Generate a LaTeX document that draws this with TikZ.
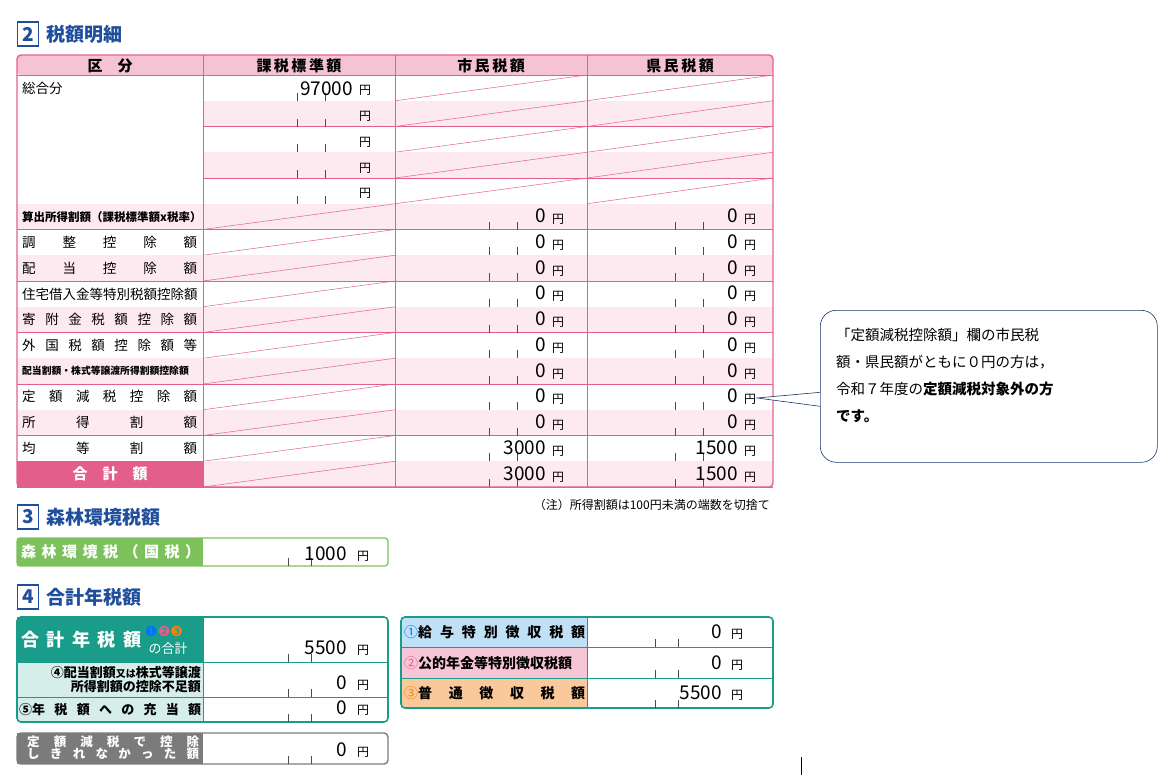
\documentclass[tikz,border=0pt]{standalone}
\usepackage{fontspec}
\setmainfont{Noto Sans CJK JP}
\newfontfamily\symfont{DejaVu Sans}
\usetikzlibrary{positioning}
\definecolor{pinkline}{HTML}{E0628C}
\definecolor{pinkhead}{HTML}{F6C3D3}
\definecolor{pinkrow}{HTML}{FDE9F0}
\definecolor{pinkdark}{HTML}{E45E8C}
\definecolor{secblue}{HTML}{1F4E9C}
\definecolor{tealdark}{HTML}{1A9C8B}
\definecolor{teallight}{HTML}{D6EEEA}
\definecolor{greenlab}{HTML}{7CC15B}
\definecolor{greylab}{HTML}{7B7B7B}
\definecolor{bluelab}{HTML}{C0E0F5}
\definecolor{pinklab}{HTML}{F7C6D6}
\definecolor{orangelab}{HTML}{F9C99B}
\tikzset{
  sechead/.style={font=\bfseries\fontsize{19}{19}\selectfont, text=secblue, anchor=west, inner sep=0pt},
  secnum/.style={draw=secblue, line width=1.8pt, text=secblue, font=\bfseries\fontsize{19}{19}\selectfont,
    minimum width=21pt, minimum height=24pt, inner sep=0pt},
  colhead/.style={font=\bfseries\fontsize{15}{15}\selectfont},
  rowlbl/.style={font=\fontsize{13.5}{13.5}\selectfont, anchor=west, inner sep=0pt},
  num/.style={font=\fontsize{19}{19}\selectfont, anchor=base east, inner sep=0pt},
  yen/.style={font=\fontsize{12}{12}\selectfont, anchor=base west, inner sep=0pt},
  tick/.style={line width=0.4pt, black!70},
  diag/.style={pinkline, line width=0.5pt},
}
\newcommand{\spreadtext}[2]{\hbox to #1{#2}}
\begin{document}
\begin{tikzpicture}[x=1pt,y=-1pt]
\useasboundingbox (0,0) rectangle (1172,779);

% section 2
\node[secnum] (n2) at (28,34) {2};
\node[sechead, right=7pt of n2] (h2) {税額明細};

% rows of the main table
\foreach \i in {0,...,15}{
  \pgfmathsetmacro\yt{75+\i*25.75}
  \pgfmathsetmacro\yb{75+(\i+1)*25.75}
  \ifodd\i
    \fill[pinkrow] (17,\yt) rectangle (773,\yb);
  \fi
  \ifnum\i<5
    \fill[white] (17,\yt) rectangle (203,\yb);
    \draw[pinkline] (203,\yb) -- (773,\yb);
    \draw[diag] (395,\yb) -- (587,\yt);
    \draw[diag] (587,\yb) -- (773,\yt);
    \draw[tick] (297,\yb) -- ++(0,-8);
    \draw[tick] (325,\yb) -- ++(0,-8);
    \node[yen] (yk\i) at (359,\yb-6) {円};
  \else
    \draw[pinkline] (17,\yb) -- (773,\yb);
    \draw[diag] (203,\yb) -- (395,\yt);
    \foreach \c in {587,773}{
      \draw[tick] (\c-98,\yb) -- ++(0,-8);
      \draw[tick] (\c-70,\yb) -- ++(0,-8);
    }
    \node[yen] (ys\i) at (552,\yb-6) {円};
    \node[yen] (yp\i) at (744,\yb-6) {円};
  \fi
}
\fill[pinkdark] (17,461.25) rectangle (203,487);
\fill[pinkhead, rounded corners=4pt] (17,55) rectangle (773,75);
\draw[pinkline] (17,75) -- (773,75);
\foreach \c in {203,395,587}
  \draw[pinkline] (\c,55) -- (\c,487);
\draw[pinkline, line width=1.4pt, rounded corners=4pt] (17,55) rectangle (773,487);

% header texts
\node[colhead] (hk) at (110,66) {区　分};
\node[colhead] (hb) at (299,66) {課\,税\,標\,準\,額};
\node[colhead] (hs) at (491,66) {市\,民\,税\,額};
\node[colhead] (hp) at (680,66) {県\,民\,税\,額};

\node[rowlbl] (sogo) at (22,88) {総合分};
\node[num] (v97) at (353,95) {97000};

% row labels and amounts
\foreach \i/\lbl/\sv/\pv in {
  5/{\fontsize{11.5}{11.5}\selectfont\bfseries 算出所得割額（課税標準額x税率）}/0/0,
  6/{\spreadtext{175pt}{調\hfill 整\hfill 控\hfill 除\hfill 額}}/0/0,
  7/{\spreadtext{175pt}{配\hfill 当\hfill 控\hfill 除\hfill 額}}/0/0,
  8/{\spreadtext{175pt}{住宅借入金等特別税額控除額}}/0/0,
  9/{\spreadtext{175pt}{寄\hfill 附\hfill 金\hfill 税\hfill 額\hfill 控\hfill 除\hfill 額}}/0/0,
  10/{\spreadtext{175pt}{外\hfill 国\hfill 税\hfill 額\hfill 控\hfill 除\hfill 額\hfill 等}}/0/0,
  11/{\fontsize{9.8}{9.8}\selectfont\bfseries 配当割額・株式等譲渡所得割額控除額}/0/0,
  12/{\spreadtext{175pt}{定\hfill 額\hfill 減\hfill 税\hfill 控\hfill 除\hfill 額}}/0/0,
  13/{\spreadtext{175pt}{所\hfill 得\hfill 割\hfill 額}}/0/0,
  14/{\spreadtext{175pt}{均\hfill 等\hfill 割\hfill 額}}/3000/1500}{
  \pgfmathsetmacro\ym{75+(\i+0.5)*25.75}
  \node[rowlbl] (l\i) at (22,\ym) {\lbl};
  \node[num] (s\i) at (546,\ym+6) {\sv};
  \node[num] (p\i) at (738,\ym+6) {\pv};
}
\node[font=\bfseries\fontsize{15}{15}\selectfont, text=white] (gokei) at (110,474) {合　計　額};
\node[num] (s15) at (546,480) {3000};
\node[num] (p15) at (738,480) {1500};

% note
\node[font=\fontsize{12}{12}\selectfont, anchor=east, inner sep=0pt] (note) at (770,505)
  {（注）所得割額は100円未満の端数を切捨て};

% callout
\node[draw=secblue!70!black, line width=0.6pt, fill=white, rounded corners=16pt, minimum width=337pt,
  minimum height=152pt, anchor=north west, inner sep=0pt] (callout) at (820,310) {};
\node[font=\fontsize{14.5}{27}\selectfont, align=left, anchor=north west, inner sep=0pt] (calltext) at (836,328)
  {「定額減税控除額」欄の市民税\\額・県民額がともに０円の方は，\\令和７年度の\textbf{定額減税対象外の方}\\\textbf{です。}};
\coordinate (tip) at (757,398);
\coordinate (cw1) at ([yshift=-6pt]callout.west);
\coordinate (cw2) at ([yshift=-20pt]callout.west);
\fill[white] (cw1) -- (tip) -- (cw2) -- cycle;
\draw[secblue!70!black, line width=0.6pt] (cw1) -- (tip) -- (cw2);

% section 3
\node[secnum] (n3) at (28,517) {3};
\node[sechead, right=7pt of n3] (h3) {森林環境税額};
\fill[greenlab] (17,538) rectangle (203,566);
\draw[greenlab, line width=1.2pt, rounded corners=3pt] (17,538) rectangle (388,566);
\draw[tick] (288,566) -- ++(0,-8);
\draw[tick] (311,566) -- ++(0,-8);
\node[font=\bfseries\fontsize{15}{15}\selectfont, text=white, anchor=west, inner sep=0pt] (shinrin) at (21,552)
  {\spreadtext{179pt}{森\hfill 林\hfill 環\hfill 境\hfill 税\hfill （\hfill 国\hfill 税\hfill ）}};
\node[num] (v1000) at (347,560) {1000};
\node[yen] (y1000) at (357,560) {円};

% section 4
\node[secnum] (n4) at (28,597) {4};
\node[sechead, right=7pt of n4] (h4) {合計年税額};

% left box
\fill[tealdark] (17,617) rectangle (203,662);
\fill[teallight] (17,662) rectangle (203,722);
\draw[tealdark, line width=1pt] (17,662) -- (388,662) (17,697) -- (388,697) (203,617) -- (203,722);
\draw[tealdark, line width=1.6pt, rounded corners=4pt] (17,617) rectangle (388,722);
\node[font=\bfseries\fontsize{18}{18}\selectfont, text=white, anchor=west, inner sep=0pt] (gnz) at (21,640)
  {\spreadtext{120pt}{合\hfill 計\hfill 年\hfill 税\hfill 額}};
\node[font=\symfont\fontsize{14}{14}\selectfont, anchor=west, inner sep=0pt] (circ) at (145,631)
  {\textcolor{blue!55!cyan}{❶}\textcolor{pinkdark}{❷}\textcolor{orange}{❸}};
\node[font=\fontsize{13}{13}\selectfont, text=white, inner sep=0pt] (nogokei) at (168,649) {の合計};
\node[font=\bfseries\fontsize{13}{14}\selectfont, align=right, anchor=east, inner sep=0pt] (hai) at (201,679)
  {④配当割額{\fontsize{10}{10}\selectfont 又は}株式等譲渡\\所得割額の控除不足額};
\node[font=\bfseries\fontsize{13}{13}\selectfont, anchor=west, inner sep=0pt] (juto) at (19,710)
  {\spreadtext{182pt}{⑤年\hfill 税\hfill 額\hfill へ\hfill の\hfill 充\hfill 当\hfill 額}};
\foreach \yb/\v/\nm in {662/5500/a,697/0/b,722/0/c}{
  \draw[tick] (288,\yb) -- ++(0,-8);
  \draw[tick] (311,\yb) -- ++(0,-8);
  \node[num] (lv\nm) at (347,\yb-8) {\v};
  \node[yen] (ly\nm) at (357,\yb-8) {円};
}

% grey box
\fill[greylab] (17,733) rectangle (203,764);
\draw[greylab, line width=1.4pt, rounded corners=4pt] (17,733) rectangle (388,764);
\node[font=\bfseries\fontsize{12.5}{14}\selectfont, text=white, anchor=west, inner sep=0pt, align=left] (gen) at (27,748)
  {\spreadtext{172pt}{定\hfill 額\hfill 減\hfill 税\hfill で\hfill 控\hfill 除}\\[-2pt]\spreadtext{172pt}{し\hfill き\hfill れ\hfill な\hfill か\hfill っ\hfill た\hfill 額}};
\draw[tick] (288,764) -- ++(0,-8);
\draw[tick] (311,764) -- ++(0,-8);
\node[num] (gv) at (347,756) {0};
\node[yen] (gy) at (357,756) {円};

% right box
\fill[bluelab] (401,617) rectangle (587,647);
\fill[pinklab] (401,647) rectangle (587,678);
\fill[orangelab] (401,678) rectangle (587,708);
\draw[tealdark, line width=1pt] (401,647) -- (773,647) (401,678) -- (773,678) (587,617) -- (587,708);
\draw[tealdark, line width=1.6pt, rounded corners=4pt] (401,617) rectangle (773,708);
\node[font=\bfseries\fontsize{14}{14}\selectfont, anchor=west, inner sep=0pt] (kyuyo) at (404,632)
  {\spreadtext{181pt}{\textcolor{blue!55!cyan}{\mdseries ①}給\hfill 与\hfill 特\hfill 別\hfill 徴\hfill 収\hfill 税\hfill 額}};
\node[font=\bfseries\fontsize{14}{14}\selectfont, anchor=west, inner sep=0pt] (nenkin) at (404,663)
  {\spreadtext{181pt}{\textcolor{pinkdark}{\mdseries ②}公的年金等特別徴収税額}};
\node[font=\bfseries\fontsize{14}{14}\selectfont, anchor=west, inner sep=0pt] (futsu) at (404,693)
  {\spreadtext{181pt}{\textcolor{orange}{\mdseries ③}普\hfill 通\hfill 徴\hfill 収\hfill 税\hfill 額}};
\foreach \yb/\v/\nm in {647/0/a,678/0/b,708/5500/c}{
  \draw[tick] (655,\yb) -- ++(0,-8);
  \draw[tick] (678,\yb) -- ++(0,-8);
  \node[num] (rv\nm) at (722,\yb-9) {\v};
  \node[yen] (ry\nm) at (731,\yb-9) {円};
}

% stray mark
\draw[black, line width=0.6pt] (801,757) -- (801,775);
\end{tikzpicture}
\end{document}
